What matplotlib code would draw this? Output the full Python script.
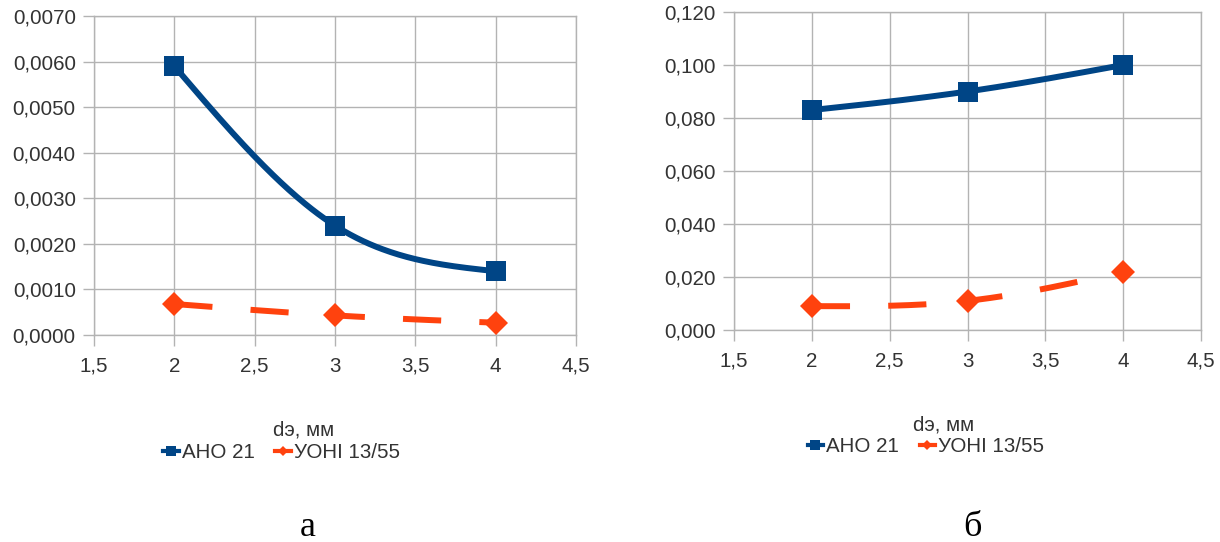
import numpy as np
import matplotlib
matplotlib.use("Agg")
import matplotlib.pyplot as plt
from matplotlib.lines import Line2D
from matplotlib.ticker import FixedLocator, FuncFormatter

# ---------------- data ----------------
x_vals = [2, 3, 4]
series_names = ["АНО 21", "УОНІ 13/55"]

# panel а
a_ano = [0.0059, 0.0024, 0.0014]
a_uoni = [0.00068, 0.00043, 0.00027]
a_yticks = [0.0, 0.001, 0.002, 0.003, 0.004, 0.005, 0.006, 0.007]

# panel б
b_ano = [0.083, 0.090, 0.100]
b_uoni = [0.009, 0.011, 0.022]
b_yticks = [0.0, 0.02, 0.04, 0.06, 0.08, 0.10, 0.12]

x_ticks = [1.5, 2, 2.5, 3, 3.5, 4, 4.5]
x_label = "dэ, мм"
panel_labels = ["а", "б"]

# ---------------- style ----------------
BLUE = "#004586"
ORANGE = "#ff420e"
GRID = "#b3b3b3"
TXT = "#333333"
FONT = ["Liberation Sans", "DejaVu Sans"]
plt.rcParams["font.family"] = FONT
plt.rcParams["lines.scale_dashes"] = False
FS = 14.8


def natural_spline(xs, ys, n=200):
    xs = np.asarray(xs, float)
    ys = np.asarray(ys, float)
    k = len(xs)
    h = np.diff(xs)
    A = np.zeros((k, k))
    r = np.zeros(k)
    A[0, 0] = 1
    A[-1, -1] = 1
    for i in range(1, k - 1):
        A[i, i - 1] = h[i - 1]
        A[i, i] = 2 * (h[i - 1] + h[i])
        A[i, i + 1] = h[i]
        r[i] = 6 * ((ys[i + 1] - ys[i]) / h[i] - (ys[i] - ys[i - 1]) / h[i - 1])
    M = np.linalg.solve(A, r)
    xx = np.linspace(xs[0], xs[-1], n)
    yy = np.empty_like(xx)
    for j, t in enumerate(xx):
        i = min(np.searchsorted(xs, t, side="right") - 1, k - 2)
        a, b = xs[i], xs[i + 1]
        hi = b - a
        yy[j] = (M[i] * (b - t) ** 3 / (6 * hi) + M[i + 1] * (t - a) ** 3 / (6 * hi)
                 + (ys[i] / hi - M[i] * hi / 6) * (b - t)
                 + (ys[i + 1] / hi - M[i + 1] * hi / 6) * (t - a))
    return xx, yy


fig = plt.figure(figsize=(12.2, 5.42), dpi=100)
W, H = 1220, 542


def px_axes(x0, x1, y0, y1):
    return fig.add_axes([x0 / W, 1 - y1 / H, (x1 - x0) / W, (y1 - y0) / H])


def setup(ax, yticks, fmt):
    ax.set_xlim(1.5, 4.5)
    ax.set_ylim(yticks[0], yticks[-1])
    ax.xaxis.set_major_locator(FixedLocator(x_ticks))
    ax.yaxis.set_major_locator(FixedLocator(yticks))
    ax.xaxis.set_major_formatter(FuncFormatter(lambda v, p: ("%g" % v).replace(".", ",")))
    ax.yaxis.set_major_formatter(FuncFormatter(lambda v, p: (fmt % v).replace(".", ",")))
    ax.grid(True, color=GRID, lw=1.0)
    ax.set_axisbelow(True)
    for s in ax.spines.values():
        s.set_color(GRID)
        s.set_linewidth(1.0)
    ax.tick_params(axis="both", direction="out", color=GRID, width=1.0,
                   length=7.6, labelsize=FS, labelcolor=TXT)
    ax.tick_params(axis="x", pad=8)
    ax.tick_params(axis="y", pad=5.5)


def draw(ax, ano, uoni):
    xs, ys = natural_spline(x_vals, ano)
    ax.plot(xs, ys, color=BLUE, lw=4.3, solid_capstyle="butt", zorder=3)
    ax.plot(x_vals, ano, ls="none", marker="s", ms=14.4, color=BLUE, mew=0, zorder=4)
    xs, ys = natural_spline(x_vals, uoni)
    ax.plot(xs, ys, color=ORANGE, lw=4.3, dashes=(27.5, 27.5), dash_capstyle="butt", zorder=3)
    ax.plot(x_vals, uoni, ls="none", marker="D", ms=12, color=ORANGE, mew=0, zorder=4)


ax1 = px_axes(94, 576, 16, 335)
setup(ax1, a_yticks, "%.4f")
draw(ax1, a_ano, a_uoni)

ax2 = px_axes(734, 1201, 12, 330)
setup(ax2, b_yticks, "%.3f")
draw(ax2, b_ano, b_uoni)

handles = [
    Line2D([], [], color=BLUE, lw=3, marker="s", ms=6.5, mew=0),
    Line2D([], [], color=ORANGE, lw=3, marker="D", ms=5.5, mew=0),
]

for cx_lab, cy_lab, cx_leg, cy_leg, cx_p, lab in [
    (304, 430, 281.5, 453, 308, panel_labels[0]),
    (944, 425, 926, 447, 972, panel_labels[1]),
]:
    fig.text(cx_lab / W, 1 - cy_lab / H, x_label, ha="center", va="center",
             fontsize=FS, color=TXT)
    fig.legend(handles, series_names, loc="center",
               bbox_to_anchor=(cx_leg / W, 1 - cy_leg / H), ncol=2, frameon=False,
               fontsize=FS, labelcolor=TXT, handlelength=0.75, handletextpad=0.15,
               columnspacing=1.0, borderpad=0, borderaxespad=0)
    fig.text(cx_p / W, 1 - 536 / H, lab, ha="center", va="baseline",
             fontsize=26, family=["Liberation Serif", "DejaVu Serif"], color="black")

fig.savefig("out.png", dpi=100)
